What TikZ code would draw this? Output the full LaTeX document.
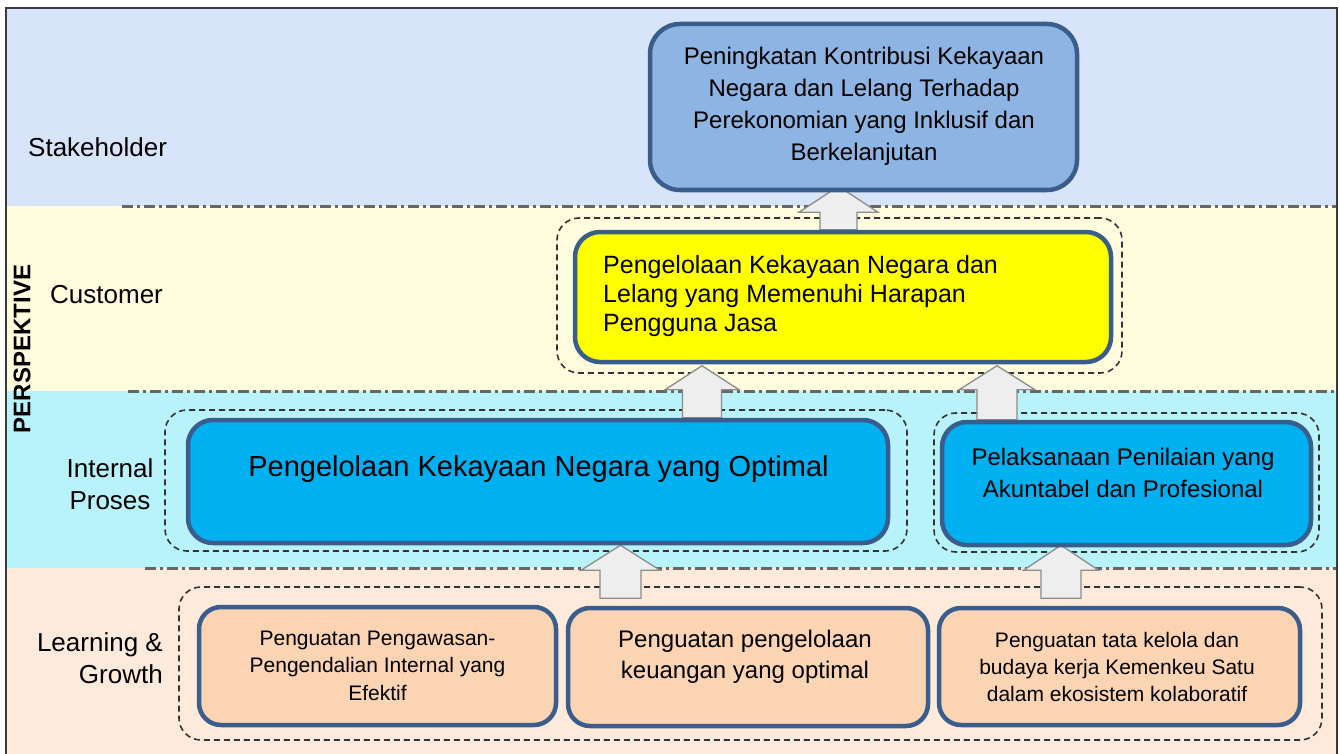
\documentclass[tikz,border=0pt]{standalone}
\usepackage{fontspec}
\setmainfont{Liberation Sans}
\usetikzlibrary{calc}
\definecolor{bandA}{HTML}{D7E4F9}
\definecolor{bandB}{HTML}{FFFDDD}
\definecolor{bandC}{HTML}{B8F2FB}
\definecolor{bandD}{HTML}{FDEADA}
\definecolor{boxline}{HTML}{3A5D8B}
\definecolor{topfill}{HTML}{8DB4E2}
\definecolor{intfill}{HTML}{00B0F0}
\definecolor{lgfill}{HTML}{FBD4B4}
\definecolor{yelfill}{HTML}{FFFF00}
\definecolor{arrfill}{HTML}{EEEEEE}
\definecolor{arrline}{HTML}{8C8C8C}
\definecolor{sepline}{HTML}{666666}
\definecolor{grpline}{HTML}{333333}
\definecolor{frameline}{HTML}{3A3A3A}
\pgfdeclarelayer{bg}
\pgfdeclarelayer{mid}
\pgfsetlayers{bg,mid,main}
\tikzset{
  box/.style={draw=boxline, line width=4.5pt, rounded corners=25pt, inner sep=0pt},
  grp/.style={draw=grpline, line width=1.6pt, dash pattern=on 6pt off 4pt, rounded corners=22pt, inner sep=0pt},
  sepdash/.style={draw=sepline, line width=3pt, dash pattern=on 11pt off 4pt on 3pt off 4pt},
  blockarrow/.style={fill=arrfill, draw=arrline, line width=1.3pt, line join=miter},
  lbl/.style={inner sep=0pt, font=\fontsize{26}{32}\selectfont},
  txt/.style={inner sep=0pt, align=center}
}
\newcommand\uparr[5]{%
  \draw[blockarrow] ($(#1)+(-#3,0)$) -- ($(#2)+(-#3,#5)$) -- ($(#2)+(-#4,#5)$) -- (#2)
    -- ($(#2)+(#4,#5)$) -- ($(#2)+(#3,#5)$) -- ($(#1)+(#3,0)$) -- cycle;}
\begin{document}
\begin{tikzpicture}[x=1pt,y=-1pt]
\useasboundingbox (0,0) rectangle (1340,754);
\begin{pgfonlayer}{bg}
  \fill[bandA] (6,8) rectangle (1337,206);
  \fill[bandB] (6,206) rectangle (1337,391);
  \fill[bandC] (6,391) rectangle (1337,568);
  \fill[bandD] (6,568) rectangle (1337,760);
  \draw[sepdash] (122,206) -- (1337,206);
  \draw[sepdash] (128,391) -- (1337,391);
  \draw[sepdash] (145,568) -- (1337,568);
  \draw[frameline, line width=1.3pt] (6,760) -- (6,8) -- (1337,8) -- (1337,760);
\end{pgfonlayer}

% perspective labels
\node[lbl, anchor=west] (lstake) at (28,147) {Stakeholder};
\node[lbl, anchor=west] (lcust) at (50,295) {Customer};
\node[lbl, align=center] (lint) at (110,484) {Internal\\Proses};
\node[lbl, align=right, anchor=east] (llg) at (163,658) {Learning \&\\Growth};
\node[inner sep=0pt, rotate=90, font=\fontsize{24}{28}\selectfont\bfseries] (lpersp) at (22,349) {PERSPEKTIVE};

% boxes
\node[box, fill=topfill, rounded corners=30pt, minimum width=427pt, minimum height=166pt] (topbox) at (863.5,107) {};
\node[txt, font=\fontsize{24}{32}\selectfont] (topt) at (864,106) {Peningkatan Kontribusi Kekayaan\\Negara dan Lelang Terhadap\\Perekonomian yang Inklusif dan\\Berkelanjutan};

\node[box, fill=yelfill, minimum width=536pt, minimum height=130pt] (yelbox) at (843,297) {};
\node[txt, align=left, anchor=west, font=\fontsize{25}{29}\selectfont] (yelt) at (603,296.5) {Pengelolaan Kekayaan Negara dan\\Lelang yang Memenuhi Harapan\\Pengguna Jasa};

\node[box, fill=intfill, minimum width=700pt, minimum height=123pt] (bigbox) at (538,481.5) {};
\node[txt, font=\fontsize{29}{34}\selectfont] (bigt) at (538.5,469) {Pengelolaan Kekayaan Negara yang Optimal};

\node[box, fill=intfill, minimum width=369pt, minimum height=123pt] (rintbox) at (1126.5,483.5) {};
\node[txt, font=\fontsize{24}{32}\selectfont] (rintt) at (1123,472.5) {Pelaksanaan Penilaian yang\\Akuntabel dan Profesional};

\node[box, fill=lgfill, rounded corners=22pt, minimum width=357pt, minimum height=118pt] (lgone) at (377.5,666) {};
\node[txt, font=\fontsize{21}{27.5}\selectfont] (lgonet) at (377.5,665.5) {Penguatan Pengawasan-\\Pengendalian Internal yang\\Efektif};

\node[box, fill=lgfill, rounded corners=22pt, minimum width=360pt, minimum height=118pt] (lgtwo) at (748,667) {};
\node[txt, font=\fontsize{24}{31}\selectfont] (lgtwot) at (745,657) {Penguatan pengelolaan\\keuangan yang optimal};

\node[box, fill=lgfill, rounded corners=22pt, minimum width=361pt, minimum height=117pt] (lgthree) at (1119.5,666.5) {};
\node[txt, font=\fontsize{21}{27}\selectfont] (lgthreet) at (1117,666.5) {Penguatan tata kelola dan\\budaya kerja Kemenkeu Satu\\dalam ekosistem kolaboratif};

\begin{pgfonlayer}{mid}
  % dashed groups
  \node[grp, minimum width=565pt, minimum height=155pt] (gcust) at (839.5,295.5) {};
  \node[grp, minimum width=742pt, minimum height=141pt] (gint) at (536,480.5) {};
  \node[grp, minimum width=385pt, minimum height=139pt] (grint) at (1126.5,482.5) {};
  \node[grp, minimum width=1143pt, minimum height=153pt] (glg) at (750.5,663.5) {};
  % block arrows
  \coordinate (aonex) at (838.5,0);
  \coordinate (atwox) at (702,0);
  \coordinate (athreex) at (997,0);
  \coordinate (afourx) at (620.5,0);
  \coordinate (afivex) at (1061,0);
  \coordinate (aoneb) at (aonex |- yelbox.north);
  \coordinate (aonet) at ($(aonex |- topbox.south)+(0,-6)$);
  \uparr{aoneb}{aonet}{18.5}{39.5}{26}
  \coordinate (atwob) at (atwox |- bigbox.north);
  \coordinate (atwot) at ($(atwox |- yelbox.south)+(0,1.5)$);
  \uparr{atwob}{atwot}{19.5}{37}{24}
  \coordinate (athreeb) at (athreex |- rintbox.north);
  \coordinate (athreet) at ($(athreex |- yelbox.south)+(0,1.5)$);
  \uparr{athreeb}{athreet}{20}{38}{24}
  \coordinate (afourb) at ($(afourx |- lgtwo.north)+(0,-7.5)$);
  \coordinate (afourt) at (afourx |- bigbox.south);
  \uparr{afourb}{afourt}{20.5}{39.5}{25}
  \coordinate (afiveb) at ($(afivex |- lgthree.north)+(0,-7.5)$);
  \coordinate (afivet) at ($(afivex |- rintbox.south)+(0,-2)$);
  \uparr{afiveb}{afivet}{20}{37.5}{25}
\end{pgfonlayer}
\end{tikzpicture}
\end{document}
